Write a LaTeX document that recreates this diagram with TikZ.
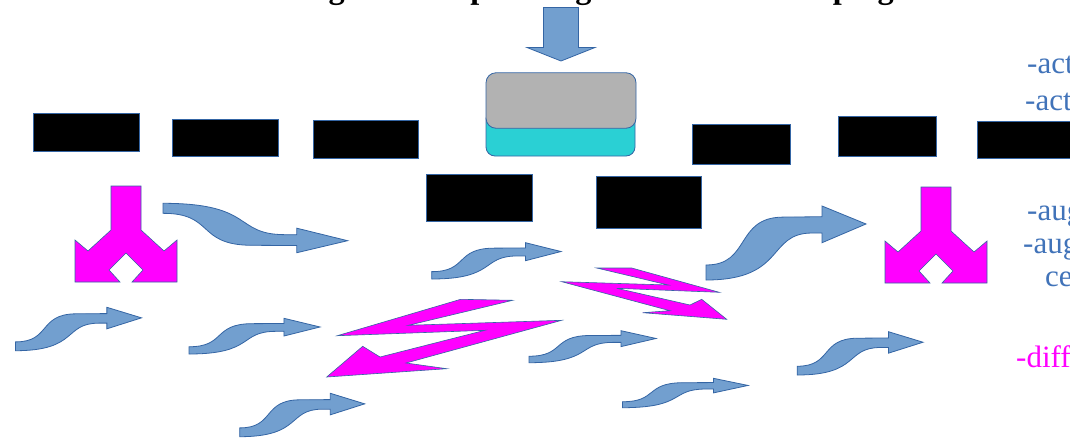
\documentclass[tikz,border=0pt]{standalone}
\usepackage{fontspec}
\setmainfont{Liberation Serif}
\definecolor{arrowblue}{RGB}{114,159,207}
\definecolor{edgeblue}{RGB}{52,101,164}
\definecolor{magentafill}{RGB}{255,0,255}
\definecolor{pressgray}{RGB}{178,178,178}
\definecolor{basecyan}{RGB}{42,208,212}
\definecolor{textblue}{RGB}{65,115,185}
\tikzset{
  blockarrow/.style={fill=arrowblue, draw=edgeblue, line width=0.8pt, line join=miter},
  splitarrow/.style={fill=magentafill, draw=edgeblue, line width=0.6pt, line join=miter},
  blackbox/.style={rectangle, fill=black, draw=edgeblue, line width=0.8pt, inner sep=0pt},
  sidelabel/.style={anchor=base west, inner sep=0pt, font=\fontsize{31}{36}\selectfont},
}
\begin{document}
\begin{tikzpicture}[x=1pt,y=-1pt]
\useasboundingbox (0,0) rectangle (1070,437);
\fill[white] (0,0) rectangle (1070,437);

% title (cut off by the top edge)
\node[anchor=base west, inner sep=0pt, font=\fontsize{32.3}{38}\selectfont\bfseries] (title) at (244.6,-2) {Timing and complete organ and the developing};

% black boxes
\node[blackbox, minimum width=106pt, minimum height=38pt] (b1) at (86,132) {};
\node[blackbox, minimum width=106pt, minimum height=37pt] (b2) at (225,137.5) {};
\node[blackbox, minimum width=105pt, minimum height=38pt] (b3) at (365.5,139) {};
\node[blackbox, minimum width=106pt, minimum height=47pt] (b4) at (479,197.5) {};
\node[blackbox, minimum width=105pt, minimum height=52pt] (b5) at (648.5,202) {};
\node[blackbox, minimum width=98pt, minimum height=40pt] (b6) at (741,144) {};
\node[blackbox, minimum width=98pt, minimum height=40pt] (b7) at (887,136) {};
\node[blackbox, minimum width=98pt, minimum height=37pt] (b8) at (1026,139.5) {};

% stacked rounded boxes
\node[rectangle, rounded corners=9pt, fill=basecyan, draw=edgeblue, line width=0.8pt, inner sep=0pt, minimum width=149pt, minimum height=46pt] (base) at (560.5,133) {};
\node[rectangle, rounded corners=10pt, fill=pressgray, draw=edgeblue, line width=0.8pt, inner sep=0pt, minimum width=150pt, minimum height=55.5pt] (press) at (561,100.5) {};

% down block arrow
\draw[blockarrow] (543.5,7.5) -- (578.5,7.5) -- (578.5,47.5) -- (595,47.5) -- (561,61) -- (527,47.5) -- (543.5,47.5) -- cycle;

% S-shaped block arrows
\foreach \ax/\ay/\aw/\as in {163/203.3/184.6/49.4, 431.7/279/129.3/-36.3, 15.5/350.7/126/-43.4, 189/354/131/-35.7, 706/280/160/-74, 239.7/436.7/125/-43.4, 529/362.7/127/-32, 622.4/407.7/125.6/-29.4, 797.2/375/125.8/-43.3}{
  \begin{scope}[shift={(\ax,\ay)}, xscale=\aw, yscale=\as]
    \draw[blockarrow] (0,0) -- (0,0.203) .. controls (0.28,0.2) and (0.18,0.845) .. (0.48,0.85) -- (0.725,0.855) -- (0.725,1) -- (1,0.757) -- (0.725,0.504) -- (0.725,0.635) -- (0.66,0.635) .. controls (0.38,0.63) and (0.5,0) .. (0,0) -- cycle;
  \end{scope}
}

% magenta split arrows
\foreach \cx/\dy in {126/0, 936/1}{
  \begin{scope}[shift={(\cx,\dy)}]
    \draw[splitarrow] (-15,186) -- (15,186) -- (15,230) -- (38,251) -- (51,240) -- (51,282) -- (6,282) -- (17,270) -- (0,253) -- (-17,270) -- (-6,282) -- (-51,282) -- (-51,240) -- (-38,251) -- (-15,230) -- cycle;
  \end{scope}
}

% magenta zigzag arrows
\draw[splitarrow] (337.3,335.7) -- (460.7,299.3) -- (512.7,300.3) -- (408.3,325.3) -- (561.7,320.3) -- (406,363) -- (446.7,368.7) -- (326.7,377) -- (362.7,346.3) -- (380,357) -- (485,330.3) -- cycle;
\draw[splitarrow] (719.3,292.3) -- (631.7,268) -- (596.7,268) -- (668.3,285) -- (561.7,281.7) -- (670,310.7) -- (642.7,312.7) -- (726.7,319.3) -- (701.7,299.3) -- (690,305) -- (616.7,288.3) -- cycle;

% side labels (cut off by the right edge)
\node[sidelabel, text=textblue] (t1) at (1027,73) {-act};
\node[sidelabel, text=textblue] (t2) at (1025,110) {-act};
\node[sidelabel, text=textblue] (t3) at (1027,220) {-aug};
\node[sidelabel, text=textblue] (t4) at (1023,253) {-aug};
\node[sidelabel, text=textblue] (t5) at (1045,286) {ce};
\node[sidelabel, text=magentafill] (t6) at (1016,367) {-diff};
\end{tikzpicture}
\end{document}
